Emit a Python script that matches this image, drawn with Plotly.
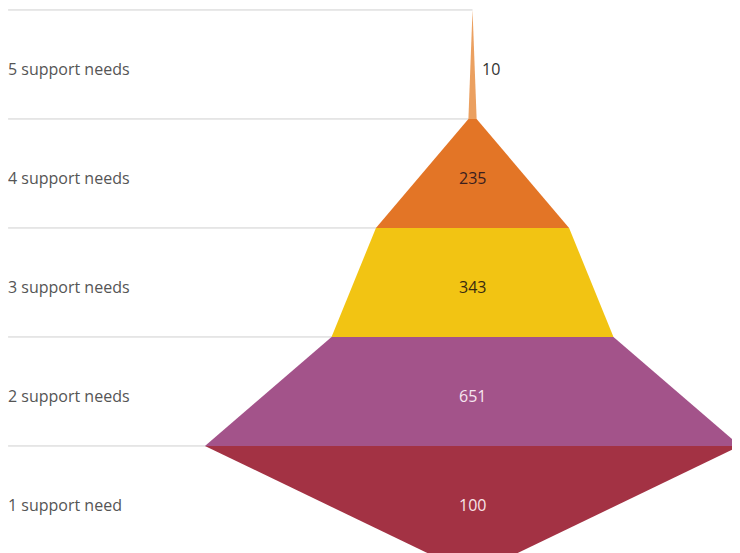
import plotly.graph_objects as go

categories = ["5 support needs", "4 support needs", "3 support needs", "2 support needs", "1 support need"]
values = [10, 235, 343, 651, 100]
colors = ["#eba060", "#e37526", "#f2c413", "#a3538a", "#a33244"]
text_colors = ["#333333", "#3a1e1e", "#3a2a10", "#f6e6f0", "#f8e4e8"]

n = len(categories)
fig = go.Figure()

# band k (0 = top) spans level n-k (top) down to n-k-1 (bottom)
for k, (cat, val) in enumerate(zip(categories, values)):
    top_level = n - k
    bot_level = n - k - 1
    top_w = values[k - 1] if k > 0 else 0
    bot_w = val
    xs = [-top_w / 2, top_w / 2, bot_w / 2, -bot_w / 2, -top_w / 2]
    ys = [top_level, top_level, bot_level, bot_level, top_level]
    fig.add_trace(go.Scatter(x=xs, y=ys, mode="lines", fill="toself",
                             fillcolor=colors[k], line=dict(width=0, color=colors[k]),
                             hoverinfo="skip", showlegend=False, cliponaxis=False))

label_x = -565
shapes = []
for lvl in range(1, n + 1):
    shapes.append(dict(type="line", xref="x", yref="y", x0=label_x, x1=0, y0=lvl, y1=lvl,
                       line=dict(color="#cfcfcf", width=1), layer="below"))

annotations = []
for k, (cat, val) in enumerate(zip(categories, values)):
    mid = n - k - 0.5
    annotations.append(dict(x=label_x, y=mid, xref="x", yref="y", text=cat, showarrow=False,
                            xanchor="left", yanchor="middle", xshift=-2, yshift=-5,
                            font=dict(family="Open Sans", size=16, color="#555555")))
    if k == 0:
        annotations.append(dict(x=val / 2, y=mid, xref="x", yref="y", text=str(val), showarrow=False,
                                xanchor="left", yanchor="middle", xshift=3, yshift=-5,
                                font=dict(family="Open Sans", size=16, color=text_colors[k])))
    else:
        annotations.append(dict(x=0, y=mid, xref="x", yref="y", text=str(val), showarrow=False,
                                xanchor="center", yanchor="middle", yshift=-5,
                                font=dict(family="Open Sans", size=16, color=text_colors[k])))

fig.update_layout(
    width=732, height=545,
    margin=dict(l=0, r=0, t=0, b=0),
    paper_bgcolor="white", plot_bgcolor="white",
    xaxis=dict(range=[-565.1, 325.4], visible=False, fixedrange=True),
    yaxis=dict(range=[0.018, 5.018], visible=False, fixedrange=True),
    shapes=shapes, annotations=annotations,
    showlegend=False,
)

fig.write_html("out.html")
